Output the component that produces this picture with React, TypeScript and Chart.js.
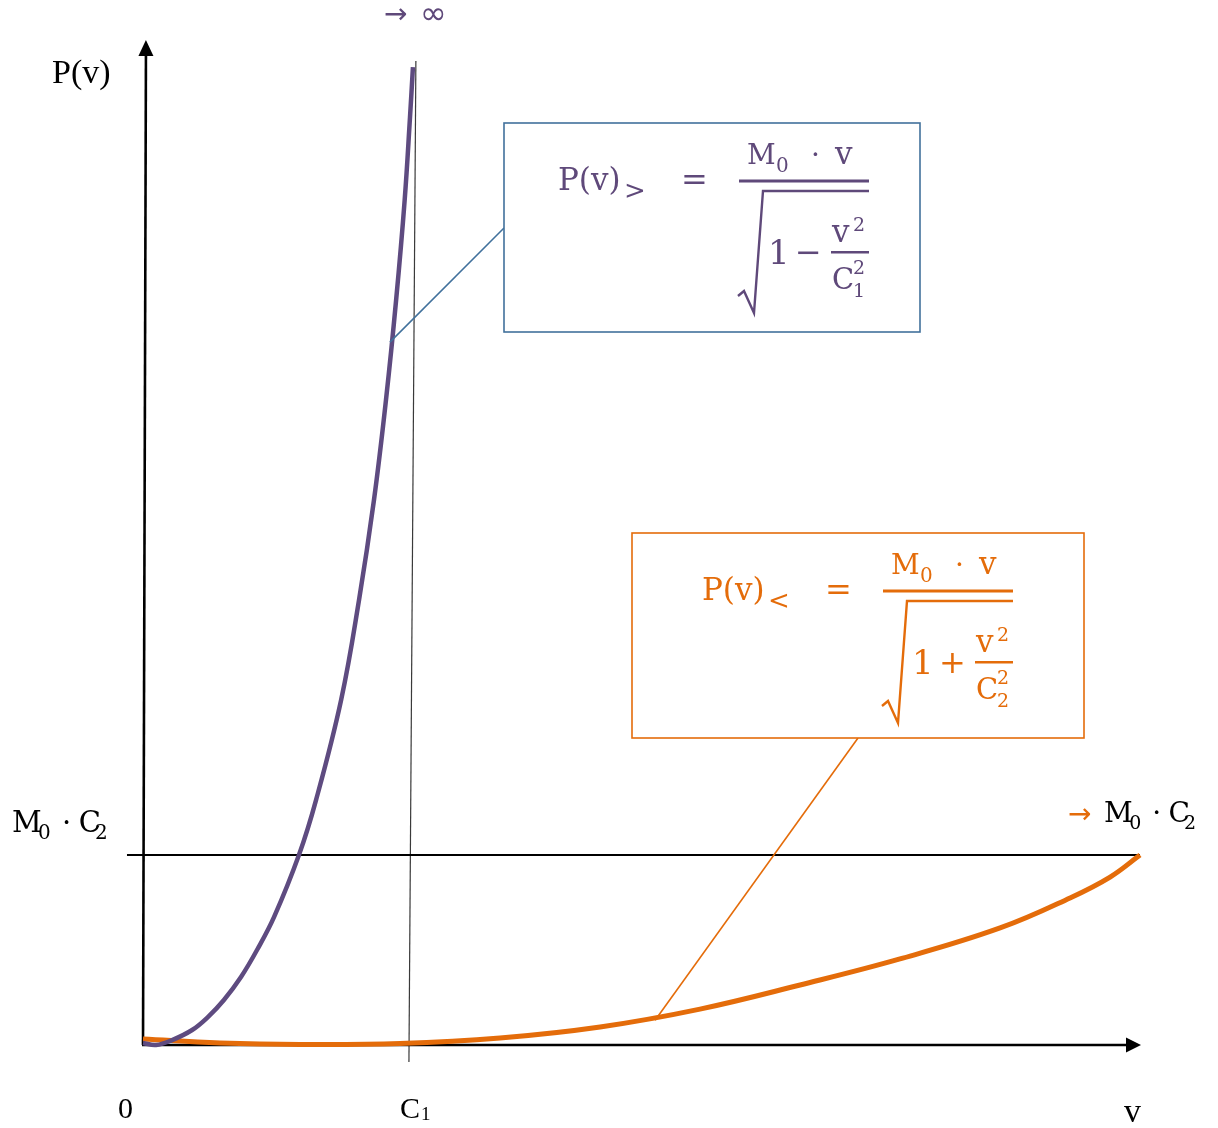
import { useEffect, useRef } from 'react';
import { Chart, registerables } from 'chart.js';

Chart.register(...registerables);

const W = 1218;
const H = 1128;

// v is measured in units of C1, P in units of M0·C2
const risingV = [0, 0.049, 0.109, 0.184, 0.243, 0.303, 0.367, 0.427, 0.491, 0.584, 0.648, 0.742, 0.809, 0.865, 0.91, 0.948, 0.98, 1.0, 1.011];
const risingP = [0.011, 0.0, 0.026, 0.079, 0.147, 0.237, 0.358, 0.5, 0.674, 1.0, 1.289, 1.816, 2.342, 2.868, 3.395, 3.921, 4.447, 4.884, 5.147];

const boundedV = [0, 0.288, 0.588, 0.963, 1.337, 1.712, 2.086, 2.461, 2.835, 3.21, 3.472, 3.622, 3.734];
const boundedP = [0.032, 0.011, 0.003, 0.008, 0.037, 0.095, 0.189, 0.316, 0.453, 0.616, 0.774, 0.884, 1.0];

const V_MAX = 3.734;
const P_MAX = 5.29;
const C1 = 1;
const LIMIT_P = 1;

const xMarks = [0, C1];
const xMarkLabels = ['0', 'C'];
const xAxisTitle = 'v';
const yAxisTitle = 'P(v)';

// callout anchors on the curves
const risingAnchor = { v: 0.925, p: 3.7 };
const boundedAnchor = { v: 1.918, p: 0.13 };

const PURPLE = '#5E4B80';
const PURPLE_TEXT = '#5F497A';
const ORANGE = '#E46C0A';
const BLUE = '#41719C';

const SERIF = '"Liberation Serif", "Times New Roman", serif';
const MATH = '"DejaVu Serif", "Liberation Serif", serif';
const SYMBOL = '"DejaVu Sans", sans-serif';

function text(ctx: CanvasRenderingContext2D, s: string, x: number, y: number, size: number, family = MATH) {
  ctx.font = `${size}px ${family}`;
  ctx.fillText(s, x, y);
}

function seg(ctx: CanvasRenderingContext2D, x1: number, y1: number, x2: number, y2: number, color: string, w: number) {
  ctx.beginPath();
  ctx.strokeStyle = color;
  ctx.lineWidth = w;
  ctx.moveTo(x1, y1);
  ctx.lineTo(x2, y2);
  ctx.stroke();
}

// P(v) = M0·v / sqrt(1 ± v²/C²)
function drawFormula(
  ctx: CanvasRenderingContext2D,
  x0: number,
  y0: number,
  color: string,
  rel: string,
  op: string,
  idx: string
) {
  ctx.fillStyle = color;
  ctx.textAlign = 'left';
  ctx.textBaseline = 'alphabetic';
  text(ctx, 'P(v)', x0, y0, 31);
  text(ctx, rel, x0 + 66, y0 + 9, 26);
  text(ctx, '=', x0 + 123, y0, 32);
  // numerator
  text(ctx, 'M', x0 + 189, y0 - 26, 28);
  text(ctx, '0', x0 + 218, y0 - 18, 20);
  text(ctx, '·', x0 + 253, y0 - 26, 28);
  text(ctx, 'v', x0 + 277, y0 - 26, 31);
  // fraction bar
  ctx.fillRect(x0 + 181, y0 - 10.5, 130, 3);
  // radical
  ctx.beginPath();
  ctx.strokeStyle = color;
  ctx.lineWidth = 2.4;
  ctx.lineJoin = 'miter';
  ctx.moveTo(x0 + 180, y0 + 106);
  ctx.lineTo(x0 + 186, y0 + 101);
  ctx.lineTo(x0 + 196, y0 + 123);
  ctx.lineTo(x0 + 205, y0 + 1);
  ctx.lineTo(x0 + 311, y0 + 1);
  ctx.stroke();
  // radicand
  text(ctx, '1', x0 + 210, y0 + 74, 34);
  text(ctx, op, x0 + 237, y0 + 73, 32);
  text(ctx, 'v', x0 + 274, y0 + 52, 31);
  text(ctx, '2', x0 + 295, y0 + 41, 19);
  ctx.fillRect(x0 + 273, y0 + 61, 38, 2.5);
  text(ctx, 'C', x0 + 274, y0 + 99, 29);
  text(ctx, '2', x0 + 295, y0 + 84, 19);
  text(ctx, idx, x0 + 295, y0 + 107, 19);
}

function drawLimitLabel(ctx: CanvasRenderingContext2D, x: number, y: number, size: number, sub: number) {
  ctx.fillStyle = '#000';
  text(ctx, 'M', x, y, size);
  text(ctx, '0', x + size * 0.9, y + 7, sub);
  text(ctx, '·', x + size * 1.72, y, size);
  text(ctx, 'C', x + size * 2.3, y, size);
  text(ctx, '2', x + size * 2.86, y + 7, sub);
}

const diagram = {
  id: 'diagram',
  beforeDatasetsDraw(chart: any) {
    const { ctx } = chart;
    const X = (v: number) => chart.scales.x.getPixelForValue(v);
    const Y = (p: number) => chart.scales.y.getPixelForValue(p);
    ctx.save();
    // thin slanted guide at C1
    seg(ctx, X(C1 - 0.004), Y(-0.09), X(C1 + 0.022), Y(5.18), '#3a3a3a', 1.2);
    // limit level M0·C2
    seg(ctx, X(-0.06), Y(LIMIT_P), X(V_MAX), Y(LIMIT_P), '#000', 2);

    // P axis with arrow head
    const ax0 = X(0), ay0 = Y(0);
    const tipX = X(0.011), tipY = Y(P_MAX);
    seg(ctx, ax0, ay0, tipX, tipY + 14, '#000', 2.6);
    ctx.fillStyle = '#000';
    ctx.beginPath();
    ctx.moveTo(tipX, tipY);
    ctx.lineTo(tipX - 7.5, tipY + 16);
    ctx.lineTo(tipX + 7.5, tipY + 16);
    ctx.closePath();
    ctx.fill();

    // v axis with arrow head
    const rx = X(V_MAX) + 1;
    seg(ctx, ax0 - 1, ay0, rx - 14, ay0, '#000', 2.6);
    ctx.beginPath();
    ctx.moveTo(rx, ay0);
    ctx.lineTo(rx - 15, ay0 - 7.5);
    ctx.lineTo(rx - 15, ay0 + 7.5);
    ctx.closePath();
    ctx.fill();
    ctx.restore();
  },
  afterDatasetsDraw(chart: any) {
    const { ctx } = chart;
    const X = (v: number) => chart.scales.x.getPixelForValue(v);
    const Y = (p: number) => chart.scales.y.getPixelForValue(p);
    ctx.save();
    ctx.textAlign = 'left';
    ctx.textBaseline = 'alphabetic';

    // callout for the rising branch
    const b1 = { x: 504, y: 123, w: 416, h: 209 };
    seg(ctx, b1.x, b1.y + 105, X(risingAnchor.v), Y(risingAnchor.p), BLUE, 1.6);
    ctx.fillStyle = '#fff';
    ctx.fillRect(b1.x, b1.y, b1.w, b1.h);
    ctx.strokeStyle = BLUE;
    ctx.lineWidth = 1.6;
    ctx.strokeRect(b1.x, b1.y, b1.w, b1.h);
    drawFormula(ctx, 558, 190, PURPLE_TEXT, '>', '\u2212', '1');

    // callout for the bounded branch
    const b2 = { x: 632, y: 533, w: 452, h: 205 };
    seg(ctx, b2.x + 226, b2.y + b2.h, X(boundedAnchor.v), Y(boundedAnchor.p), ORANGE, 1.6);
    ctx.fillStyle = '#fff';
    ctx.fillRect(b2.x, b2.y, b2.w, b2.h);
    ctx.strokeStyle = ORANGE;
    ctx.lineWidth = 1.6;
    ctx.strokeRect(b2.x, b2.y, b2.w, b2.h);
    drawFormula(ctx, 702, 600, ORANGE, '<', '+', '2');

    // axis titles
    ctx.fillStyle = '#000';
    text(ctx, yAxisTitle, X(0) - 91, Y(P_MAX) + 43, 34, SERIF);
    text(ctx, xAxisTitle, X(V_MAX) - 16, Y(0) + 77, 34, SERIF);

    // tick labels on the v axis
    text(ctx, xMarkLabels[0], X(xMarks[0]) - 25, Y(0) + 73, 30, SERIF);
    text(ctx, xMarkLabels[1], X(xMarks[1]) - 10, Y(0) + 73, 30, SERIF);
    text(ctx, '1', X(xMarks[1]) + 11, Y(0) + 75, 19, SERIF);

    // limit level labels
    drawLimitLabel(ctx, 12, Y(LIMIT_P) - 23, 29, 20);
    ctx.fillStyle = ORANGE;
    text(ctx, '\u2192', X(V_MAX) - 72, Y(LIMIT_P) - 32, 28, SYMBOL);
    drawLimitLabel(ctx, X(V_MAX) - 36, Y(LIMIT_P) - 33, 28, 19);

    // divergence marker above the rising branch
    ctx.fillStyle = PURPLE_TEXT;
    text(ctx, '\u2192', 384, 23, 28, SYMBOL);
    text(ctx, '\u221E', 420, 24, 32, SYMBOL);
    ctx.restore();
  },
};

export default function App() {
  const ref = useRef<HTMLCanvasElement>(null);

  useEffect(() => {
    document.body.style.margin = '0';
    const canvas = ref.current;
    if (!canvas) return;
    const chart = new Chart(canvas, {
      type: 'line',
      data: {
        datasets: [
          {
            label: 'P(v)>',
            data: risingV.map((v, i) => ({ x: v, y: risingP[i] })),
            borderColor: PURPLE,
            borderWidth: 4.5,
            pointRadius: 0,
            tension: 0.4,
            fill: false,
            clip: false as any,
          },
          {
            label: 'P(v)<',
            data: boundedV.map((v, i) => ({ x: v, y: boundedP[i] })),
            borderColor: ORANGE,
            borderWidth: 5,
            pointRadius: 0,
            tension: 0.4,
            fill: false,
            clip: false as any,
          },
        ],
      },
      options: {
        animation: false,
        responsive: false,
        maintainAspectRatio: false,
        elements: { line: { capBezierPoints: false } },
        layout: { padding: { left: 143, right: 78, top: 40, bottom: 83 } },
        scales: {
          x: { type: 'linear', min: 0, max: V_MAX, display: false },
          y: { type: 'linear', min: 0, max: P_MAX, display: false },
        },
        plugins: {
          legend: { display: false },
          tooltip: { enabled: false },
        },
      },
      plugins: [diagram],
    });
    return () => chart.destroy();
  }, []);

  return (
    <div style={{ width: W, height: H, background: '#fff' }}>
      <canvas ref={ref} width={W} height={H} style={{ display: 'block', width: W, height: H }} />
    </div>
  );
}
